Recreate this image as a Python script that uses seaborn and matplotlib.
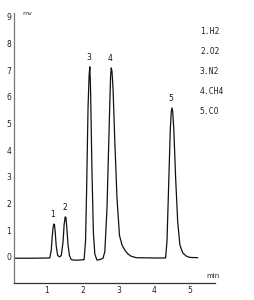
import matplotlib
matplotlib.use("Agg")
import matplotlib.pyplot as plt
import seaborn as sns
import pandas as pd

# Chromatogram trace (time in min, signal in mV)
time_min = [0.10, 0.60, 1.08, 1.12, 1.15, 1.17, 1.19, 1.21, 1.23, 1.26, 1.30, 1.35,
            1.40, 1.45, 1.48, 1.51, 1.53, 1.55, 1.59, 1.63, 1.68, 1.75, 1.90, 2.04,
            2.08, 2.11, 2.15, 2.18, 2.20, 2.22, 2.26, 2.30, 2.34, 2.40, 2.48, 2.57,
            2.62, 2.68, 2.74, 2.78, 2.80, 2.82, 2.85, 2.90, 2.96, 3.03, 3.10, 3.18, 3.26,
            3.35, 3.50, 4.00, 4.32,
            4.36, 4.40, 4.45, 4.48, 4.50, 4.52, 4.55, 4.60, 4.66, 4.72, 4.80, 4.90, 5.00, 5.22]
signal_mv = [-0.05, -0.05, -0.04, 0.25, 0.8, 1.08, 1.23, 1.22, 0.95, 0.4, 0.06, 0.0,
             0.05, 0.55, 1.2, 1.5, 1.48, 1.2, 0.45, 0.05, -0.10, -0.12, -0.12, -0.10,
             0.6, 2.5, 5.6, 6.8, 7.12, 6.3, 3.2, 0.9, 0.1, -0.12, -0.10, -0.05,
             0.2, 1.8, 4.8, 6.75, 7.08, 6.95, 6.3, 4.3, 2.2, 0.8, 0.45, 0.25, 0.12,
             0.03, -0.03, -0.04, -0.04,
             0.6, 2.4, 4.7, 5.45, 5.58, 5.45, 4.8, 3.0, 1.3, 0.45, 0.15, 0.03, -0.02, -0.03]

peak_labels = ["1", "2", "3", "4", "5"]
peak_times = [1.20, 1.52, 2.20, 2.81, 4.50]
peak_heights = [1.24, 1.51, 7.12, 7.08, 5.58]
components = ["1.H2", "2.O2", "3.N2", "4.CH4", "5.CO"]

x_ticks = [1, 2, 3, 4, 5]
y_ticks = [0, 1, 2, 3, 4, 5, 6, 7, 8, 9]

sns.set_style("white")
plt.rcParams["font.family"] = ["DejaVu Sans"]

fig = plt.figure(figsize=(2.54, 3.0), dpi=100)
ax = fig.add_axes([0.055, 0.056, 0.791, 0.901])

df = pd.DataFrame({"t": time_min, "mv": signal_mv})
sns.lineplot(data=df, x="t", y="mv", sort=False, color="#111111", linewidth=0.9, ax=ax)

ax.set_xlim(0.077, 5.70)
ax.set_ylim(-0.985, 9.14)
ax.set_xticks(x_ticks)
ax.set_yticks(y_ticks)
ax.set_xticklabels([str(v) for v in x_ticks])
ax.set_yticklabels([str(v) for v in y_ticks])
ax.tick_params(axis="both", labelsize=5.5, length=2, width=0.5, color="#bbbbbb",
               direction="in", pad=2, labelcolor="#222222")
ax.set_xlabel("")
ax.set_ylabel("")
for side in ["top", "right"]:
    ax.spines[side].set_visible(False)
ax.spines["left"].set_color("#777777")
ax.spines["bottom"].set_color("#333333")
ax.spines["left"].set_linewidth(0.9)
ax.spines["bottom"].set_linewidth(0.9)

for lab, t, h in zip(peak_labels, peak_times, peak_heights):
    ax.text(t - 0.03, h + 0.17, lab, fontsize=5.5, ha="center", va="bottom", color="#111111")

ax.text(0.30, 9.12, "mv", fontsize=4.5, ha="left", va="center", color="#333333")
ax.text(5.45, -0.72, "min", fontsize=5, ha="left", va="center", color="#222222")

for i, c in enumerate(components):
    fig.text(200 / 254, 1 - (32 + i * 20) / 300, c, fontsize=5.8, family="DejaVu Sans Mono",
             ha="left", va="center", color="#222222")

fig.savefig("out.png", dpi=100)
